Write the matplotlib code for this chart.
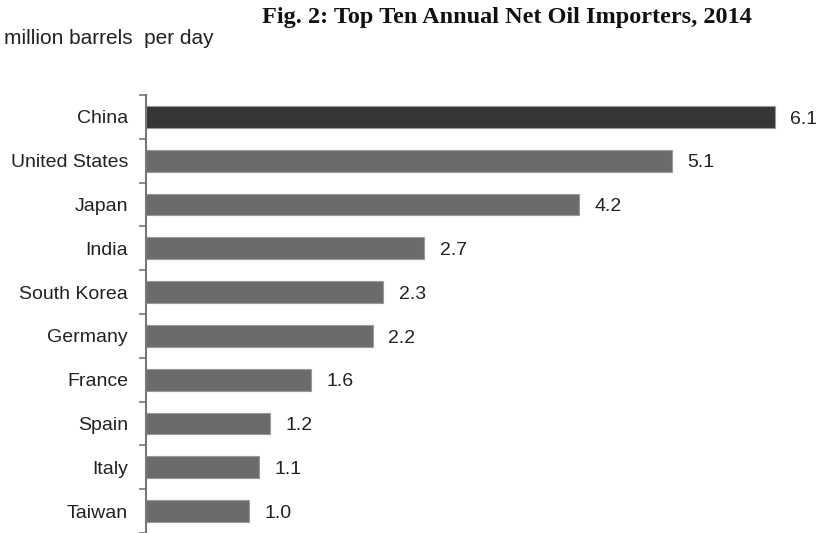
import matplotlib
matplotlib.use("Agg")
import matplotlib.pyplot as plt
import numpy as np

countries = ["China", "United States", "Japan", "India", "South Korea",
             "Germany", "France", "Spain", "Italy", "Taiwan"]
values = [6.1, 5.1, 4.2, 2.7, 2.3, 2.2, 1.6, 1.2, 1.1, 1.0]
value_labels = ["6.1", "5.1", "4.2", "2.7", "2.3", "2.2", "1.6", "1.2", "1.1", "1.0"]

fig = plt.figure(figsize=(8.16, 5.33), dpi=100)
ax = fig.add_axes([146/816, 0.0, 1 - 146/816, 1 - 95/533])

y = np.arange(len(countries))
colors = ["#363636"] + ["#6b6b6b"] * (len(countries) - 1)
ax.barh(y, values, height=0.5, color=colors, edgecolor="#9a9a9a", linewidth=0.8)

for yi, v, lab in zip(y, values, value_labels):
    ax.text(v + 0.15, yi + 0.05, lab, va="center", ha="left", fontsize=14,
            family="Liberation Sans", color="#222222")

ax.set_ylim(len(countries) - 0.5, -0.5)
ax.set_xlim(0, 6.5)
ax.set_yticks(y)
ax.set_yticklabels(countries, fontsize=14, family="Liberation Sans", color="#222222")
ax.tick_params(axis="y", which="major", length=0, pad=13)
ax.set_yticks(np.arange(-0.5, len(countries) + 0.5, 1), minor=True)
ax.tick_params(axis="y", which="minor", length=5, width=1.2, color="#777777", direction="out")
ax.set_xticks([])
for s in ["top", "right", "bottom"]:
    ax.spines[s].set_visible(False)
ax.spines["left"].set_color("#777777")
ax.spines["left"].set_linewidth(1.5)

fig.text(507/816, 1 - 17/533, "Fig. 2: Top Ten Annual Net Oil Importers, 2014",
         ha="center", va="center", fontsize=17.5, fontweight="bold",
         family="Liberation Serif", color="#111111")
fig.text(4/816, 1 - 39/533, "million barrels  per day", ha="left", va="center",
         fontsize=15, family="Liberation Sans", color="#222222")

fig.savefig("out.png", dpi=100)
